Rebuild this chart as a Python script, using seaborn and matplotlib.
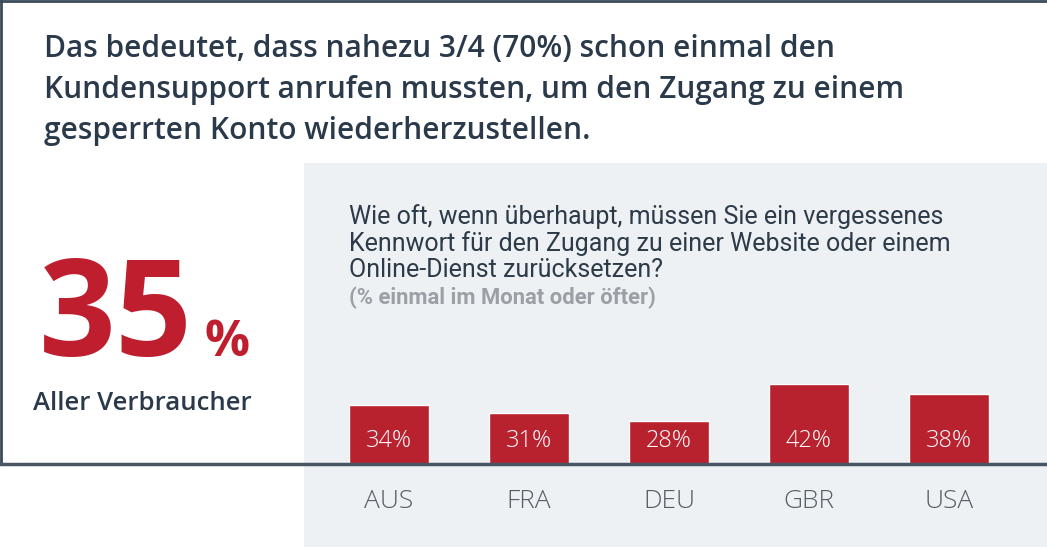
import matplotlib
matplotlib.use("Agg")
import matplotlib.pyplot as plt
import seaborn as sns
import pandas as pd
from matplotlib.patches import Rectangle
from matplotlib.lines import Line2D

# data
countries = ["AUS", "FRA", "DEU", "GBR", "USA"]
shares = [34, 31, 28, 42, 38]
headline = ("Das bedeutet, dass nahezu 3/4 (70%) schon einmal den\n"
            "Kundensupport anrufen mussten, um den Zugang zu einem\n"
            "gesperrten Konto wiederherzustellen.")
question = ("Wie oft, wenn überhaupt, müssen Sie ein vergessenes\n"
            "Kennwort für den Zugang zu einer Website oder einem\n"
            "Online-Dienst zurücksetzen?")
subnote = "(% einmal im Monat oder öfter)"
big_value = "35"
big_label = "Aller Verbraucher"

W, H = 1047, 547
RED = "#b8222f"
DARK = "#2a3a4a"
LINE = "#4a5563"
PANEL = "#edf1f4"

sns.set_style("white")
plt.rcParams["font.family"] = ["Open Sans", "DejaVu Sans"]

fig = plt.figure(figsize=(W / 100, H / 100), dpi=100)
fig.patch.set_facecolor("white")


def fx(x):
    return x / W


def fy(y):
    return 1 - y / H


# light panel behind the chart
fig.patches.append(Rectangle((fx(304), 0), 1 - fx(304), fy(163), transform=fig.transFigure,
                             facecolor=PANEL, edgecolor="none", zorder=-2))
# frame lines
fig.lines.append(Line2D([0, 1], [fy(1), fy(1)], transform=fig.transFigure, color="#3b4a5a", lw=2))
fig.lines.append(Line2D([fx(1), fx(1)], [fy(0), fy(464)], transform=fig.transFigure, color="#3b4a5a", lw=2))

# bar chart (value axis starts at 12 like the original's exaggerated bars)
df = pd.DataFrame({"country": countries, "share": shares})
ax = fig.add_axes([fx(319), fy(463), fx(700), (463 - 340) / H])
ax.set_facecolor("none")
sns.barplot(data=df, x="country", y="share", color=RED, width=0.57, saturation=1, ax=ax)
ax.set_xlim(-0.5, len(countries) - 0.5)
ax.set_ylim(12, 58.6)
for i, v in enumerate(shares):
    ax.text(i, 20.3, f"{v}%", ha="center", va="center", color="white", fontsize=17,
            fontweight="light")
ax.set_xlabel("")
ax.set_ylabel("")
ax.set_yticks([])
ax.tick_params(axis="x", length=0, pad=19, labelsize=19, labelcolor="#555d66")
for lab in ax.get_xticklabels():
    lab.set_fontweight("light")
sns.despine(ax=ax, left=True, bottom=True)

# baseline across the whole figure
fig.lines.append(Line2D([0, 1], [fy(464), fy(464)], transform=fig.transFigure, color=LINE,
                        lw=2.5, zorder=5))

# texts
fig.text(fx(44), fy(90), headline, ha="left", va="center", color=DARK, fontsize=21.5,
         fontweight="semibold", linespacing=1.48)
fig.text(fx(39), fy(356), big_value, ha="left", va="baseline", color="#be1e2d", fontsize=97,
         fontweight="bold")
fig.text(fx(204), fy(356), "%", ha="left", va="baseline", color="#be1e2d", fontsize=36,
         fontweight="bold")
fig.text(fx(142), fy(404), big_label, ha="center", va="center", color=DARK, fontsize=18.5,
         fontweight="semibold")
fig.text(fx(349), fy(243), question, ha="left", va="center", color="#2d3a48", fontsize=18,
         family=["Roboto", "DejaVu Sans"], linespacing=1.12)
fig.text(fx(349), fy(298), subnote, ha="left", va="center", color="#9aa0a6", fontsize=15.8,
         family=["Roboto", "DejaVu Sans"], fontweight="bold")

fig.savefig("out.png", dpi=100)
